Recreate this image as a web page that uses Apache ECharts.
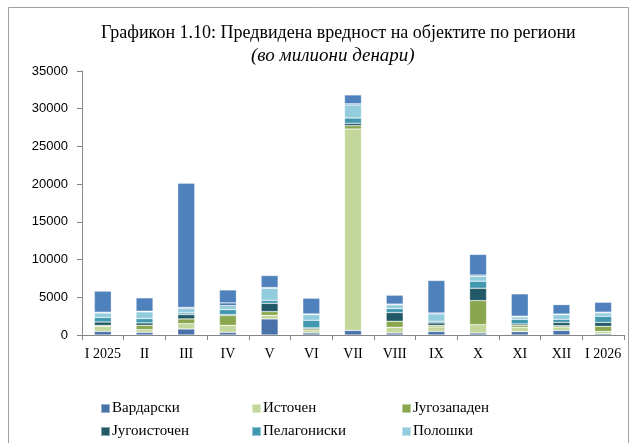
<!DOCTYPE html>
<html>
<head>
<meta charset="utf-8">
<script src="https://cdn.jsdelivr.net/npm/echarts@6/dist/echarts.min.js"></script>
<style>
  html, body { margin: 0; padding: 0; background: #fff; }
  #main { width: 638px; height: 443px; }
</style>
</head>
<body>
<div id="main"></div>
<script>
// месеци
var categories = ['I 2025', 'II', 'III', 'IV', 'V', 'VI', 'VII', 'VIII', 'IX', 'X', 'XI', 'XII', 'I 2026'];

// вредности по региони (милиони денари), од дното кон врвот
var vardarski    = [480, 350, 800, 350, 2130, 270, 610, 270, 480, 270, 440, 610, 175];
var istochen     = [665, 360, 710, 930, 480, 310, 26700, 750, 590, 1100, 570, 450, 310];
var jugozapaden  = [130, 575, 620, 1290, 490, 230, 440, 800, 215, 3190, 270, 175, 665];
var jugoistochen = [450, 320, 580, 130, 1100, 130, 320, 1160, 320, 1640, 185, 440, 530];
var pelagoniski  = [610, 575, 220, 665, 400, 1010, 700, 530, 215, 930, 610, 400, 800];
var poloshki     = [585, 890, 580, 530, 1600, 760, 1730, 490, 980, 665, 320, 625, 450];
var severoistochen = [100, 80, 150, 360, 100, 80, 150, 100, 120, 150, 100, 80, 100];
var skopski      = [2800, 1780, 16450, 1720, 1590, 2090, 1180, 1180, 4310, 2740, 2960, 1250, 1310];

var yTicks = [0, 5000, 10000, 15000, 20000, 25000, 30000, 35000];

var seriesDefs = [
  ['Вардарски', vardarski, '#4A72AA'],
  ['Источен', istochen, '#C4D79B'],
  ['Југозападен', jugozapaden, '#8AA64E'],
  ['Југоисточен', jugoistochen, '#215967'],
  ['Пелагониски', pelagoniski, '#4198AF'],
  ['Полошки', poloshki, '#93CDDD'],
  ['Североисточен', severoistochen, '#4A78B5'],
  ['Скопски', skopski, '#4F81BD']
];

var myChart = echarts.init(document.getElementById('main'));

var series = seriesDefs.map(function (d) {
  return {
    name: d[0],
    type: 'bar',
    stack: 'total',
    barWidth: 17,
    data: d[1],
    itemStyle: { color: d[2], borderColor: 'rgba(255,255,255,0.45)', borderWidth: 0.6 }
  };
});

// легенда во две редици по три колони
var legendPos = [[95, 396], [246, 396], [396, 396], [95, 419], [246, 419], [396, 419]];
var legends = legendPos.map(function (p, i) {
  return {
    left: p[0], top: p[1],
    data: [seriesDefs[i][0]],
    itemWidth: 9, itemHeight: 9, itemGap: 3, icon: 'rect',
    textStyle: { fontFamily: 'Liberation Serif', fontSize: 15, color: '#000', padding: [0, 0, 0, -3] },
    selectedMode: false
  };
});

var option = {
  animation: false,
  backgroundColor: '#fff',
  title: [
    {
      text: 'Графикон 1.10: Предвидена вредност на објектите по региони',
      left: 96, top: 19,
      textStyle: { fontFamily: 'Liberation Serif', fontSize: 18, fontWeight: 'normal', color: '#000' }
    },
    {
      text: '(во милиони денари)',
      left: 246, top: 41,
      textStyle: { fontFamily: 'Liberation Serif', fontSize: 19, fontStyle: 'italic', fontWeight: 'normal', color: '#000' }
    }
  ],
  graphic: [{
    type: 'rect',
    shape: { x: 8.5, y: 7.5, width: 620, height: 460 },
    style: { fill: 'none', stroke: '#a0a0a0', lineWidth: 1 }
  }],
  legend: legends,
  grid: { left: 82, right: 14, top: 71, bottom: 108 },
  xAxis: {
    type: 'category',
    data: categories,
    axisLine: { lineStyle: { color: '#868686' } },
    axisTick: { show: true, length: 5, interval: 0, lineStyle: { color: '#868686' } },
    axisLabel: { interval: 0, fontFamily: 'Liberation Serif', fontSize: 14, color: '#000', margin: 12 }
  },
  yAxis: {
    type: 'value',
    min: yTicks[0],
    max: yTicks[yTicks.length - 1],
    interval: 5000,
    splitLine: { show: false },
    axisLine: { show: true, lineStyle: { color: '#868686' } },
    axisTick: { show: true, length: 5, lineStyle: { color: '#868686' } },
    axisLabel: {
      fontFamily: 'Liberation Sans', fontSize: 13, color: '#000', margin: 14,
      formatter: function (v) { return String(v); }
    }
  },
  series: series
};

myChart.setOption(option, true);
</script>
</body>
</html>
